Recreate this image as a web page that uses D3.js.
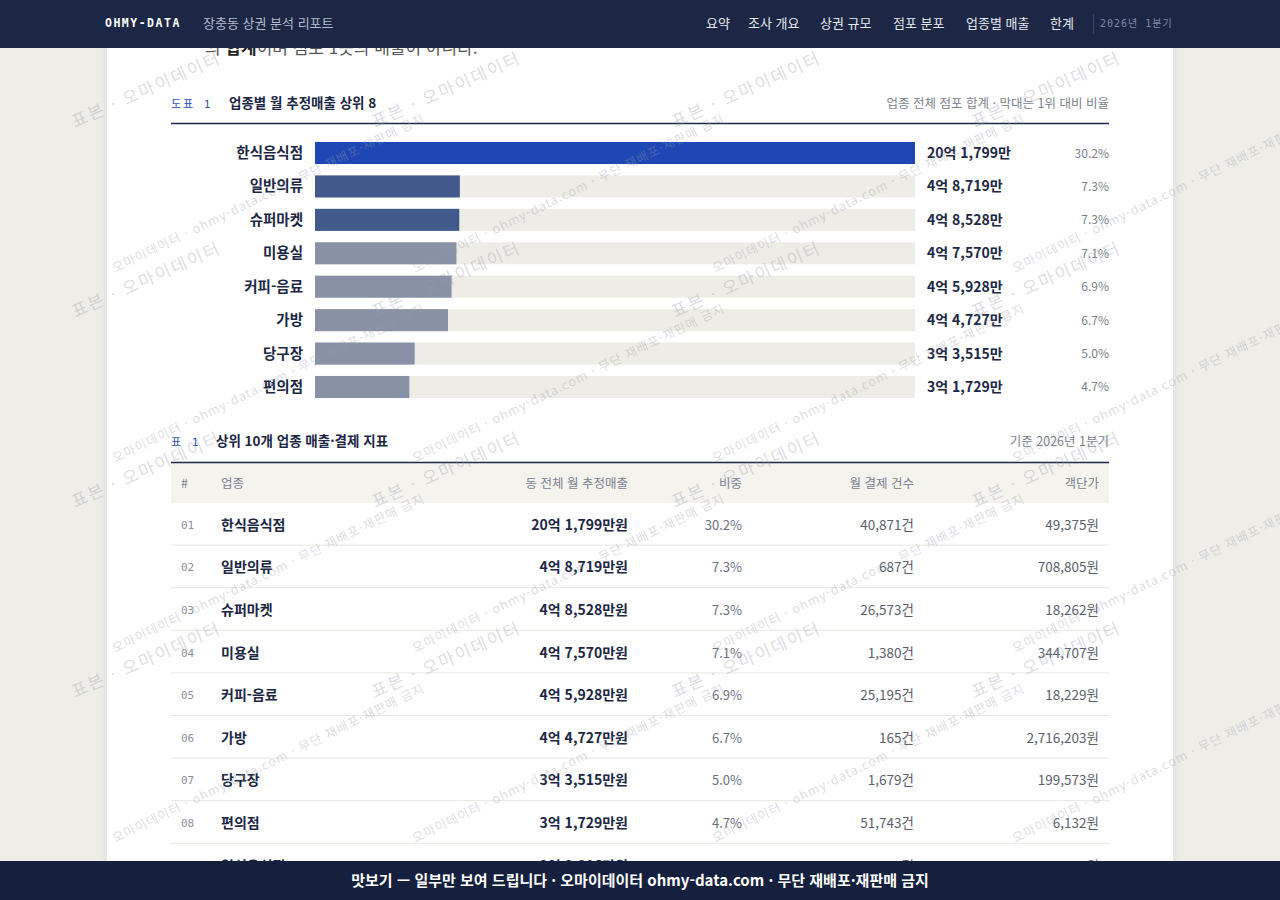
<!DOCTYPE html>
<html lang="ko">
<head>
<meta charset="utf-8">
<title>장충동 상권 분석 리포트</title>
<script src="https://cdn.jsdelivr.net/npm/d3@7"></script>
<style>
  html, body { margin: 0; padding: 0; background: #eeede8; }
  svg { display: block; font-family: "Noto Sans CJK KR", "Noto Sans", sans-serif; }
  .mono { font-family: "DejaVu Sans Mono", "Noto Sans CJK KR", monospace; }
</style>
</head>
<body>
<svg id="page" width="1280" height="900"></svg>
<script>
'use strict';

// chart 1: 업종별 월 추정매출 상위 8 (단위: 만원)
var categories = ['한식음식점', '일반의류', '슈퍼마켓', '미용실', '커피-음료', '가방', '당구장', '편의점'];
var sales = [201799, 48719, 48528, 47570, 45928, 44727, 33515, 31729];
var shares = [30.2, 7.3, 7.3, 7.1, 6.9, 6.7, 5.0, 4.7];

// table 1: 상위 업종 (9위는 하단 띠에 거의 가려져 추정값)
var tableNames = categories.concat(['일식음식점']);
var tableSales = sales.concat([28816]);
var tableShares = shares.concat([4.3]);
var tableCounts = [40871, 687, 26573, 1380, 25195, 165, 1679, 51743, 6214];
var tablePrices = [49375, 708805, 18262, 344707, 18229, 2716203, 199573, 6132, 46373];
var tableCols = ['#', '업종', '동 전체 월 추정매출', '비중', '월 결제 건수', '객단가'];

var navItems = ['요약', '조사 개요', '상권 규모', '점포 분포', '업종별 매출', '한계'];

var NAVY = '#1b2744';
var BLUE = '#2b50b8';
var comma = d3.format(',');

function eok(v) {
  var e = Math.floor(v / 10000), m = v % 10000;
  return e + '억 ' + comma(m) + '만';
}

var svg = d3.select('#page');

// card
var defs = svg.append('defs');
var sh = defs.append('filter').attr('id', 'shadow').attr('x', -0.05).attr('width', 1.1);
sh.append('feDropShadow').attr('dx', 0).attr('dy', 0).attr('stdDeviation', 5)
  .attr('flood-color', '#000').attr('flood-opacity', 0.08);
svg.append('rect').attr('x', 107).attr('y', 0).attr('width', 1066).attr('height', 900)
  .attr('fill', '#fff').attr('filter', 'url(#shadow)');

// cut-off paragraph under the top bar
var para = svg.append('text').attr('x', 205).attr('y', 54)
  .attr('font-size', 17).attr('fill', '#555');
para.append('tspan').text('의 ');
para.append('tspan').attr('font-weight', 700).attr('fill', '#222').text('합계');
para.append('tspan').text('이며 점포 1곳의 매출이 아니다.');

// ---------- 도표 1 ----------
svg.append('text').attr('class', 'mono').attr('x', 171).attr('y', 108)
  .attr('font-size', 11).attr('letter-spacing', 2).attr('fill', BLUE).text('도표 1');
svg.append('text').attr('x', 229).attr('y', 108).attr('font-size', 13.5)
  .attr('font-weight', 700).attr('fill', NAVY).text('업종별 월 추정매출 상위 8');
svg.append('text').attr('x', 1109).attr('y', 108).attr('text-anchor', 'end')
  .attr('font-size', 12.5).attr('fill', '#7a7f8c').text('업종 전체 점포 합계 · 막대는 1위 대비 비율');
svg.append('line').attr('x1', 171).attr('x2', 1109).attr('y1', 123.5).attr('y2', 123.5)
  .attr('stroke', NAVY).attr('stroke-width', 1.3);

var x = d3.scaleLinear().domain([0, d3.max(sales)]).range([315, 915]);
var y = d3.scaleBand().domain(categories).range([136.3, 403.7])
  .paddingInner(0.34).paddingOuter(0.17);

var rows = svg.append('g').selectAll('g')
  .data(categories)
  .enter().append('g');

rows.append('rect')
  .attr('x', x(0)).attr('y', function(d) { return y(d); })
  .attr('width', x.range()[1] - x(0)).attr('height', y.bandwidth())
  .attr('fill', '#eeece6');

rows.append('rect')
  .attr('x', x(0)).attr('y', function(d) { return y(d); })
  .attr('width', function(d, i) { return x(sales[i]) - x(0); })
  .attr('height', y.bandwidth())
  .attr('fill', function(d, i) { return i === 0 ? '#1e47b5' : (i < 3 ? '#42598c' : '#8891a6'); });

rows.append('text')
  .attr('x', 303).attr('y', function(d) { return y(d) + y.bandwidth() / 2 + 5; })
  .attr('text-anchor', 'end').attr('font-size', 14.5).attr('font-weight', 600)
  .attr('fill', NAVY).text(function(d) { return d; });

rows.append('text')
  .attr('x', 927).attr('y', function(d) { return y(d) + y.bandwidth() / 2 + 5; })
  .attr('font-size', 14).attr('font-weight', 700).attr('fill', NAVY)
  .text(function(d, i) { return eok(sales[i]); });

rows.append('text')
  .attr('x', 1109).attr('y', function(d) { return y(d) + y.bandwidth() / 2 + 4.5; })
  .attr('text-anchor', 'end').attr('font-size', 12).attr('fill', '#7a7f8c')
  .text(function(d, i) { return shares[i].toFixed(1) + '%'; });

// ---------- 표 1 ----------
svg.append('text').attr('class', 'mono').attr('x', 171).attr('y', 446)
  .attr('font-size', 11).attr('letter-spacing', 2).attr('fill', BLUE).text('표 1');
svg.append('text').attr('x', 216).attr('y', 446).attr('font-size', 13.5)
  .attr('font-weight', 700).attr('fill', NAVY).text('상위 10개 업종 매출·결제 지표');
svg.append('text').attr('x', 1109).attr('y', 446).attr('text-anchor', 'end')
  .attr('font-size', 12.5).attr('fill', '#7a7f8c').text('기준 2026년 1분기');

svg.append('rect').attr('x', 171).attr('y', 463).attr('width', 938).attr('height', 40)
  .attr('fill', '#f4f3ee');
svg.append('line').attr('x1', 171).attr('x2', 1109).attr('y1', 462.5).attr('y2', 462.5)
  .attr('stroke', NAVY).attr('stroke-width', 1.3);

var colX = [181, 221, 628, 742, 914, 1099];
var colAnchor = ['start', 'start', 'end', 'end', 'end', 'end'];
svg.append('g').selectAll('text')
  .data(tableCols)
  .enter().append('text')
  .attr('x', function(d, i) { return colX[i]; }).attr('y', 488)
  .attr('text-anchor', function(d, i) { return colAnchor[i]; })
  .attr('font-size', 12.5).attr('fill', '#7b8190')
  .text(function(d) { return d; });

var ty = d3.scaleBand().domain(d3.range(tableNames.length))
  .range([503, 503 + 42.6 * tableNames.length]);

var trow = svg.append('g').selectAll('g')
  .data(tableNames)
  .enter().append('g')
  .attr('transform', function(d, i) { return 'translate(0,' + ty(i) + ')'; });

trow.append('line').attr('x1', 171).attr('x2', 1109)
  .attr('y1', ty.bandwidth() - 0.5).attr('y2', ty.bandwidth() - 0.5)
  .attr('stroke', '#e8e6e0');

var mid = ty.bandwidth() / 2 + 5.5;
trow.append('text').attr('class', 'mono').attr('x', colX[0]).attr('y', mid - 1)
  .attr('font-size', 11).attr('fill', '#8a90a0')
  .text(function(d, i) { return d3.format('02')(i + 1); });
trow.append('text').attr('x', colX[1]).attr('y', mid)
  .attr('font-size', 14).attr('font-weight', 700).attr('fill', NAVY)
  .text(function(d) { return d; });
trow.append('text').attr('x', colX[2]).attr('y', mid).attr('text-anchor', 'end')
  .attr('font-size', 14).attr('font-weight', 700).attr('fill', NAVY)
  .text(function(d, i) { return eok(tableSales[i]) + '원'; });
trow.append('text').attr('x', colX[3]).attr('y', mid).attr('text-anchor', 'end')
  .attr('font-size', 13).attr('fill', '#6b7080')
  .text(function(d, i) { return tableShares[i].toFixed(1) + '%'; });
trow.append('text').attr('x', colX[4]).attr('y', mid).attr('text-anchor', 'end')
  .attr('font-size', 13.5).attr('fill', '#5a5f6b')
  .text(function(d, i) { return comma(tableCounts[i]) + '건'; });
trow.append('text').attr('x', colX[5]).attr('y', mid).attr('text-anchor', 'end')
  .attr('font-size', 13.5).attr('fill', '#5a5f6b')
  .text(function(d, i) { return comma(tablePrices[i]) + '원'; });

// ---------- watermark ----------
var wm = svg.append('g').attr('pointer-events', 'none').attr('fill', '#9a9cab').attr('fill-opacity', 0.36);
d3.range(0, 4).forEach(function(c) {
  d3.range(0, 4).forEach(function(r) {
    var ox = 75 + c * 300, oy = 128 + r * 190;
    wm.append('text').attr('transform', 'translate(' + ox + ',' + oy + ') rotate(-24)')
      .attr('font-size', 17).attr('letter-spacing', 2).text('표본 · 오마이데이터');
    wm.append('text').attr('transform', 'translate(' + (ox + 40) + ',' + (oy + 145) + ') rotate(-26)')
      .attr('font-size', 12.5).attr('letter-spacing', 1).text('오마이데이터 · ohmy-data.com · 무단 재배포·재판매 금지');
  });
});

// ---------- top bar ----------
svg.append('rect').attr('x', 0).attr('y', 0).attr('width', 1280).attr('height', 48).attr('fill', '#1b2744');
svg.append('text').attr('class', 'mono').attr('x', 105).attr('y', 27)
  .attr('font-size', 11.5).attr('font-weight', 700).attr('letter-spacing', 1.5)
  .attr('fill', '#fff').text('OHMY-DATA');
svg.append('text').attr('x', 203).attr('y', 28).attr('font-size', 13)
  .attr('fill', '#b4bccb').text('장충동 상권 분석 리포트');

var navX = [706, 748, 820, 893, 966, 1050];
svg.append('g').selectAll('text')
  .data(navItems)
  .enter().append('text')
  .attr('x', function(d, i) { return navX[i]; }).attr('y', 28)
  .attr('font-size', 13).attr('fill', '#e6e9ef')
  .text(function(d) { return d; });
svg.append('line').attr('x1', 1093.5).attr('x2', 1093.5).attr('y1', 14).attr('y2', 34)
  .attr('stroke', '#3a4766');
svg.append('text').attr('class', 'mono').attr('x', 1100).attr('y', 27)
  .attr('font-size', 10).attr('letter-spacing', 1).attr('fill', '#7f8aa3').text('2026년 1분기');

// ---------- bottom bar ----------
svg.append('rect').attr('x', 0).attr('y', 861).attr('width', 1280).attr('height', 39).attr('fill', '#14203d');
svg.append('text').attr('x', 640).attr('y', 886).attr('text-anchor', 'middle')
  .attr('font-size', 15).attr('font-weight', 700).attr('fill', '#fff')
  .text('맛보기 — 일부만 보여 드립니다 · 오마이데이터 ohmy-data.com · 무단 재배포·재판매 금지');
</script>
</body>
</html>
